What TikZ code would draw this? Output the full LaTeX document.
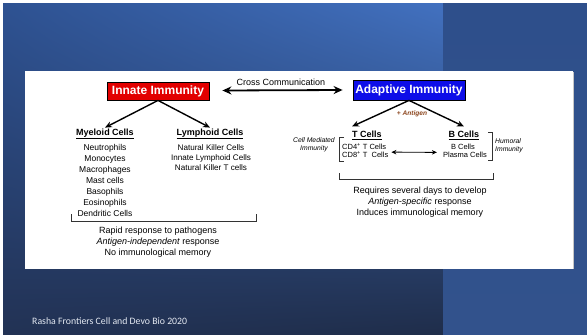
\documentclass[tikz,border=0pt]{standalone}
\usepackage{fontspec}
\setmainfont{Liberation Sans}
\newfontfamily\slidefont{Carlito}
\usepackage{xcolor}
\usepackage{tikz}
\usetikzlibrary{arrows.meta, positioning, shadings}
\definecolor{innred}{RGB}{226,0,0}
\definecolor{adablue}{RGB}{14,14,232}
\definecolor{antig}{RGB}{140,70,30}
\definecolor{bgUL}{RGB}{46,82,146}
\definecolor{bgUR}{RGB}{66,113,192}
\definecolor{bgLL}{RGB}{34,50,84}
\definecolor{bgLR}{RGB}{31,45,74}
\definecolor{panTop}{RGB}{46,79,139}
\definecolor{panBot}{RGB}{50,82,140}
\definecolor{footgrey}{RGB}{228,233,242}

\begin{document}
\begin{tikzpicture}[x=1pt, y=-1pt,
  immbox/.style={draw=black, line width=0.8pt, text=white, font=\fontsize{12}{14}\selectfont\bfseries, minimum height=18pt, inner sep=0pt},
  head/.style={font=\fontsize{9}{11}\selectfont\bfseries, inner sep=1pt},
  item/.style={font=\fontsize{8.5}{10}\selectfont, text height=6.1pt, text depth=1.8pt, inner sep=0pt},
  note/.style={font=\fontsize{9}{11}\selectfont, text height=6.5pt, text depth=1.9pt, inner sep=0pt},
  side/.style={font=\fontsize{6.8}{8}\selectfont\itshape, inner sep=0pt},
  bigarr/.style={{Stealth[length=9pt,width=8pt]}-{Stealth[length=9pt,width=8pt]}, line width=1.8pt},
  branch/.style={-{Stealth[length=7pt,width=6pt]}, line width=1.4pt},
  dblarr/.style={{Stealth[length=5pt,width=4.5pt]}-{Stealth[length=5pt,width=4.5pt]}, line width=0.9pt},
  brk/.style={line width=0.7pt, black!80}]
  % slide background
  \useasboundingbox (0,0) rectangle (587,335);
  \fill[white] (0,0) rectangle (587,335);
  \shade[upper left=bgUL, upper right=bgUR, lower left=bgLL, lower right=bgLR] (3,3) rectangle (443,335);
  \shade[top color=panTop, bottom color=panBot] (443,3) rectangle (587,335);
  \fill[white] (25,71) rectangle (573,269);
  \draw[gray!45, line width=1.2pt] (573.6,72) -- (573.6,269);

  % top row
  \node[immbox, fill=innred, minimum width=102pt] (innate) at (158,91) {Innate Immunity};
  \node[immbox, fill=adablue, minimum width=112pt, minimum height=20pt] (adaptive) at (409,90) {Adaptive Immunity};
  \node[font=\fontsize{9}{11}\selectfont, inner sep=0pt] (cross) at (281,82) {Cross Communication};
  \draw[bigarr] ([xshift=13pt,yshift=0.5pt]innate.east) -- ([xshift=-10pt]adaptive.west);

  % innate side
  \node[head] (myeloid) at (105,134) {\underline{Myeloid Cells}};
  \node[head] (lymphoid) at (210,134) {\underline{Lymphoid Cells}};
  \draw[branch] (innate.south) -- (myeloid.north);
  \draw[branch] (innate.south) -- (lymphoid.north);
  \foreach \c [count=\i] in {Neutrophils, Monocytes, Macrophages, Mast cells, Basophils, Eosinophils, Dendritic Cells}
    \node[item] (mye\i) at (105,137+11*\i) {\c};
  \foreach \c [count=\i] in {Natural Killer Cells, Innate Lymphoid Cells, Natural Killer T cells}
    \node[item, font=\fontsize{8.1}{10}\selectfont] (lym\i) at (211,138+10*\i) {\c};
  \draw[brk] (71,214) -- (71,221) -- (256,221) -- (256,214);
  \node[note] (rapid) at (158,231) {Rapid response to pathogens};
  \node[note] (indep) at (158,242) {\textit{Antigen-independent} response};
  \node[note] (nomem) at (158,253) {No immunological memory};

  % adaptive side
  \node[font=\fontsize{6.6}{8}\selectfont\bfseries\itshape, text=antig, inner sep=0pt] (antigen) at (412,114) {+ Antigen};
  \node[head] (tcells) at (367,135) {\underline{T Cells}};
  \node[head] (bcells) at (464,135) {\underline{B Cells}};
  \draw[branch] (adaptive.south) -- ([xshift=-15pt,yshift=3pt]tcells.north);
  \draw[branch] (adaptive.south) -- ([yshift=3pt]bcells.north);
  \node[item, font=\fontsize{7.5}{9}\selectfont, anchor=west] (cdfour) at (342,147) {CD4\textsuperscript{+} T Cells};
  \node[item, font=\fontsize{7.5}{9}\selectfont, anchor=west] (cdeight) at (342,155) {CD8\textsuperscript{+} T\ \ Cells};
  \node[item, font=\fontsize{7.5}{9}\selectfont] (bsub) at (463,147) {B Cells};
  \node[item, font=\fontsize{7.5}{9}\selectfont] (plasma) at (465,155) {Plasma Cells};
  \draw[dblarr] ([xshift=5pt,yshift=-1pt]cdfour.south east) -- ([xshift=-6pt,yshift=-1.5pt]plasma.north west);
  \draw[brk] (344,137) -- (339,137) -- (339,161) -- (344,161);
  \draw[brk] (488,132) -- (492,132) -- (492,160) -- (488,160);
  \node[side, align=center] (cellmed) at (314,145) {Cell Mediated\\Immunity};
  \node[side, align=left, anchor=west] (humoral) at (495,146) {Humoral\\Immunity};
  \draw[brk] (339,173) -- (339,179) -- (493,179) -- (493,173);
  \node[note] (days) at (420,191) {Requires several days to develop};
  \node[note] (specific) at (420,202) {\textit{Antigen-specific} response};
  \node[note] (memory) at (420,213) {Induces immunological memory};

  % footer
  \node[anchor=west, inner sep=0pt, text=footgrey, font=\slidefont\fontsize{9.8}{12}\selectfont] (cite) at (32,321) {Rasha Frontiers Cell and Devo Bio 2020};
\end{tikzpicture}
\end{document}
